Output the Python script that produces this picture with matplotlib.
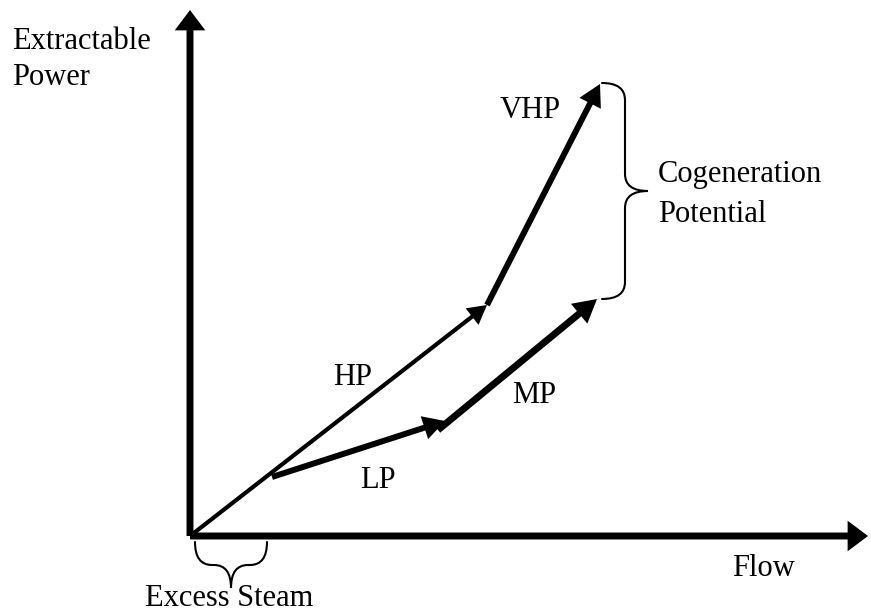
"""Extractable power vs flow: steam level vectors sketch."""

import matplotlib
matplotlib.use("Agg")
import matplotlib.pyplot as plt
from matplotlib.path import Path
from matplotlib.patches import PathPatch

plt.rcParams["font.family"] = ["Liberation Serif", "DejaVu Serif"]

# steam level vectors: (flow, power) start and end points
levels = ["HP", "VHP", "LP", "MP"]
starts = [(0.0, 0.0), (2.97, 2.31), (0.82, 0.59), (2.48, 1.06)]
ends = [(2.97, 2.31), (4.10, 4.52), (2.55, 1.15), (4.07, 2.37)]

# axis extents
flow_max = 6.78
power_max = 5.26

# brace spans
cogen_span = (4.53, 2.37)   # power range marked as cogeneration potential
excess_span = (0.05, 0.77)  # flow range marked as excess steam


def brace(ax, a, b, base, depth, vertical):
    """Draw a curly brace from a to b, with the hooks at `base`."""
    h = depth / 2
    r = min(0.17, abs(b - a) / 4)
    sgn = 1 if b > a else -1
    m = (a + b) / 2
    pts = [
        (a, 0), (a, h), (a + sgn * r, h),
        (m - sgn * r, h),
        (m, h), (m, depth),
        (m, h), (m + sgn * r, h),
        (b - sgn * r, h),
        (b, h), (b, 0),
    ]
    codes = [Path.MOVETO, Path.CURVE3, Path.CURVE3, Path.LINETO,
             Path.CURVE3, Path.CURVE3, Path.CURVE3, Path.CURVE3,
             Path.LINETO, Path.CURVE3, Path.CURVE3]
    if vertical:
        verts = [(base + w, s) for s, w in pts]
    else:
        verts = [(s, base + w) for s, w in pts]
    ax.add_patch(PathPatch(Path(verts, codes), fill=False, lw=1.5,
                           color="black", capstyle="round"))


fig = plt.figure(figsize=(8.71, 6.13), dpi=100)
ax = fig.add_axes([0, 0, 1, 1])
ax.set_xlim(-1.90, 6.81)
ax.set_ylim(-0.77, 5.36)
ax.axis("off")


def arrow(p0, p1, lw, hl, hw, ms=20):
    ax.annotate("", xy=p1, xytext=p0,
                arrowprops=dict(arrowstyle=f"-|>,head_length={hl},head_width={hw}",
                                lw=lw, color="black", shrinkA=0, shrinkB=0,
                                mutation_scale=ms, joinstyle="miter",
                                capstyle="butt"))


# axes
arrow((0, 0), (0, power_max), 5, 0.4, 0.3)
arrow((0, 0), (flow_max, 0), 5, 0.4, 0.3)

widths = {"HP": 3, "VHP": 4.3, "LP": 4.3, "MP": 5}
for name, p0, p1 in zip(levels, starts, ends):
    arrow(p0, p1, widths[name], 0.45, 0.25)

brace(ax, cogen_span[0], cogen_span[1], ends[1][0] + 0.02, 0.46, True)
brace(ax, excess_span[0], excess_span[1], -0.06, -0.46, False)

fs = 22
ax.text(-1.78, 4.51, "Extractable\nPower", fontsize=fs, va="baseline",
        linespacing=1.32)
ax.text(4.68, 3.14, "Cogeneration\nPotential", fontsize=fs, va="baseline",
        linespacing=1.51)
ax.text(-0.45, -0.70, "Excess Steam", fontsize=fs, va="baseline")
ax.text(6.05, -0.40, "Flow", fontsize=fs, va="baseline", ha="right")
ax.text(1.43, 1.51, "HP", fontsize=fs, va="baseline")
ax.text(3.10, 4.18, "VHP", fontsize=fs, va="baseline")
ax.text(3.22, 1.33, "MP", fontsize=fs, va="baseline")
ax.text(1.70, 0.48, "LP", fontsize=fs, va="baseline")

fig.savefig("out.png", dpi=100)
